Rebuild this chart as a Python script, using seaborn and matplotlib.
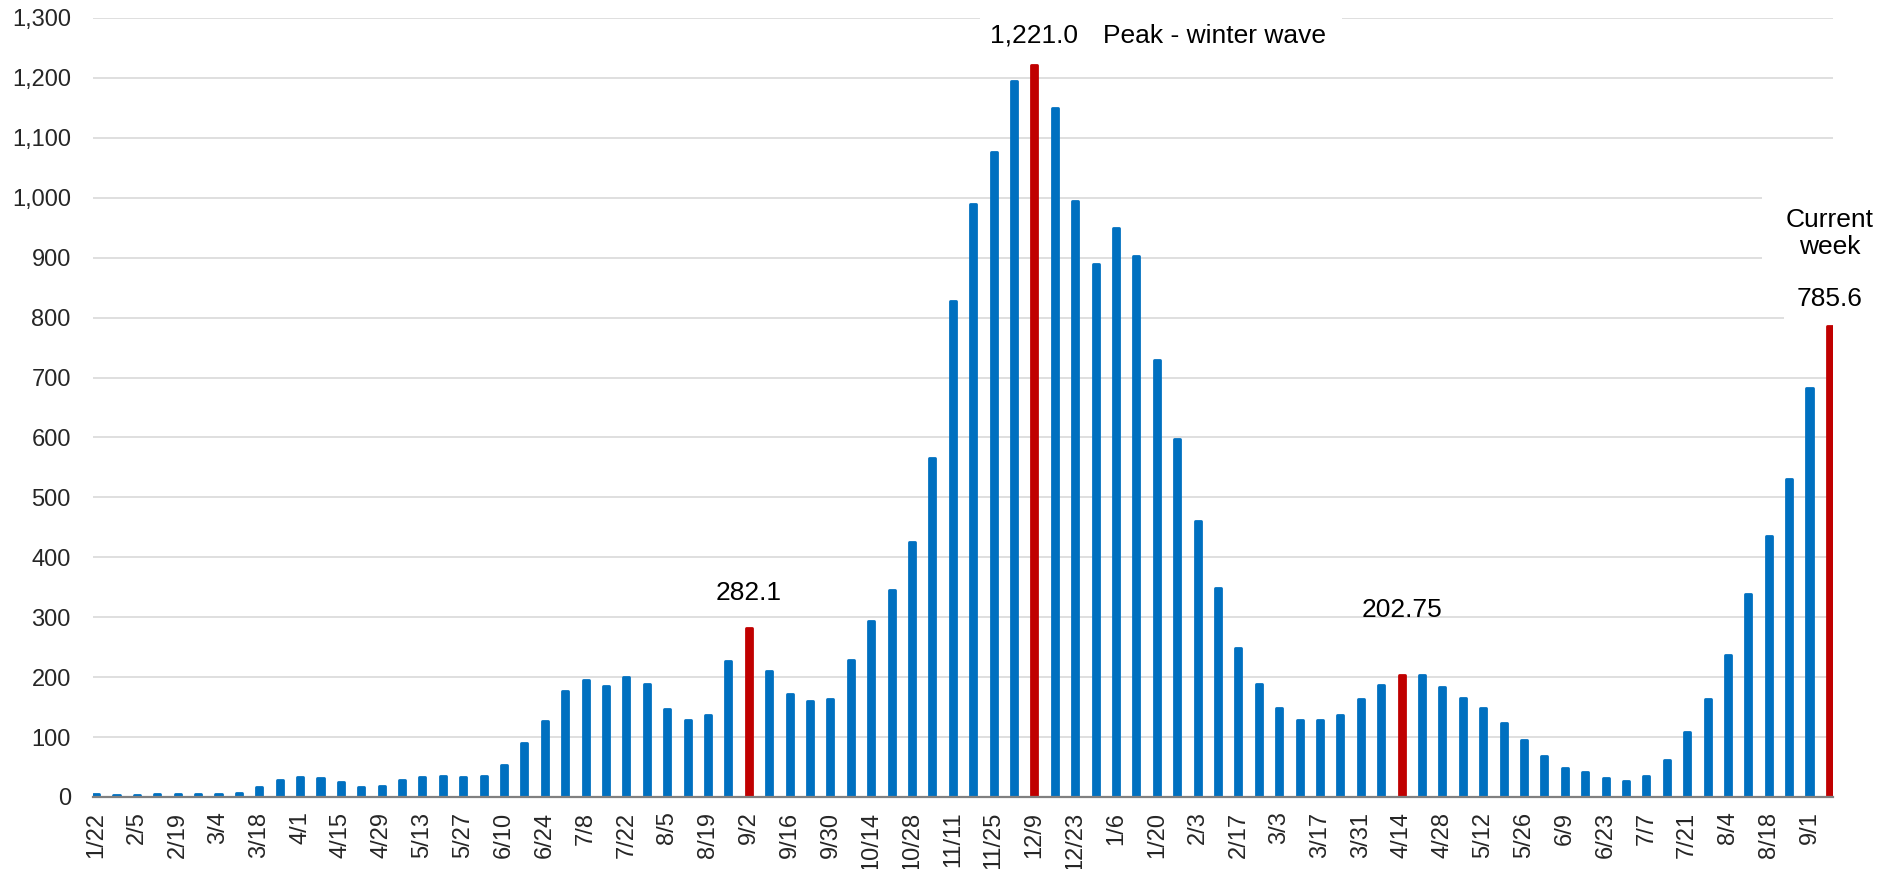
import seaborn as sns
import matplotlib.pyplot as plt
import pandas as pd
from matplotlib.ticker import FuncFormatter

# weekly values
weeks = ['1/22', '1/29', '2/5', '2/12', '2/19', '2/26', '3/4', '3/11', '3/18', '3/25',
         '4/1', '4/8', '4/15', '4/22', '4/29', '5/6', '5/13', '5/20', '5/27', '6/3',
         '6/10', '6/17', '6/24', '7/1', '7/8', '7/15', '7/22', '7/29', '8/5', '8/12',
         '8/19', '8/26', '9/2', '9/9', '9/16', '9/23', '9/30', '10/7', '10/14', '10/21',
         '10/28', '11/4', '11/11', '11/18', '11/25', '12/2', '12/9', '12/16', '12/23', '12/30',
         '1/6', '1/13', '1/20', '1/27', '2/3', '2/10', '2/17', '2/24', '3/3', '3/10',
         '3/17', '3/24', '3/31', '4/7', '4/14', '4/21', '4/28', '5/5', '5/12', '5/19',
         '5/26', '6/2', '6/9', '6/16', '6/23', '6/30', '7/7', '7/14', '7/21', '7/28',
         '8/4', '8/11', '8/18', '8/25', '9/1', '9/8']
values = [5, 4, 4, 5, 5, 5.5, 5.5, 7, 16, 28,
          34, 32, 25, 16, 18, 28, 33, 35, 34, 35,
          53, 90, 126, 176, 196, 185, 200, 189, 147, 129,
          137, 227, 282.1, 210, 172, 160, 164, 229, 293, 346,
          425, 566, 828, 990, 1076, 1195, 1221.0, 1150, 995, 890,
          949, 902, 729, 597, 461, 348, 249, 188, 149, 128,
          128, 136, 164, 187, 202.75, 203, 183, 165, 149, 124,
          95, 69, 49, 41, 32, 26, 35, 61, 108, 164,
          237, 338, 435, 530, 682, 785.6]
highlight = ['9/2', '12/9', '4/14', '9/8']

blue = '#0070C0'
red = '#C00000'

df = pd.DataFrame({'week': weeks, 'value': values})
df['idx'] = range(len(df))
df['kind'] = ['peak' if w in highlight else 'normal' for w in weeks]

sns.set_style('white')
plt.rcParams['font.family'] = ['Liberation Sans', 'DejaVu Sans']

fig = plt.figure(figsize=(18.94, 8.69), dpi=100)
ax = fig.add_axes([0.0491, 0.0829, 0.9187, 0.8964])

sns.barplot(data=df, x='idx', y='value', hue='kind', dodge=False, width=0.3,
            saturation=1, palette={'normal': blue, 'peak': red}, legend=False,
            ax=ax, zorder=3)

# rounded bar tops like the original
for bar in ax.patches:
    bar.set_edgecolor(bar.get_facecolor())
    bar.set_linewidth(2)
    bar.set_joinstyle('round')

ax.set_ylim(0, 1300)
ax.set_xlim(-0.15, len(weeks) - 1 + 0.15)
ax.set_yticks(range(0, 1301, 100))
ax.yaxis.set_major_formatter(FuncFormatter(lambda v, p: f'{v:,.0f}'))
ax.set_xticks(range(0, len(weeks), 2))
ax.set_xticklabels(weeks[::2], rotation=90)
ax.set_xlabel('')
ax.set_ylabel('')

ax.grid(axis='y', color='#d9d9d9', linewidth=1.2, zorder=0)
ax.set_axisbelow(True)
for s in ['top', 'right', 'left']:
    ax.spines[s].set_visible(False)
ax.spines['bottom'].set_color('#808080')
ax.spines['bottom'].set_linewidth(1.6)
ax.spines['bottom'].set_zorder(4)

ax.tick_params(axis='y', length=0, pad=16, labelsize=17, labelcolor='#262626')
ax.tick_params(axis='x', length=4.5, width=1.5, color='#808080', pad=6,
               labelsize=17, labelcolor='#262626')

# annotations
ax.text(weeks.index('9/2'), 340, '282.1', ha='center', va='center', fontsize=19, color='black')
ax.text(weeks.index('4/14'), 312, '202.75', ha='center', va='center', fontsize=19, color='black')
ax.text(weeks.index('12/9'), 1270, '1,221.0', ha='center', va='center', fontsize=19,
        color='black', bbox=dict(facecolor='white', edgecolor='none', boxstyle='square,pad=0.4'),
        zorder=5)
ax.text(49.35, 1270, 'Peak - winter wave', ha='left', va='center', fontsize=19,
        color='black', bbox=dict(facecolor='white', edgecolor='none', boxstyle='square,pad=0.6'),
        zorder=5)
ax.text(weeks.index('9/8'), 941, 'Current\nweek', ha='center', va='center', fontsize=19,
        color='black', linespacing=1.15,
        bbox=dict(facecolor='white', edgecolor='none', boxstyle='square,pad=0.9'),
        zorder=5, clip_on=False)
ax.text(weeks.index('9/8'), 831, '785.6', ha='center', va='center', fontsize=19, color='black',
        bbox=dict(facecolor='white', edgecolor='none', boxstyle='square,pad=0.5'),
        zorder=6, clip_on=False)

fig.savefig('out.png', dpi=100)
